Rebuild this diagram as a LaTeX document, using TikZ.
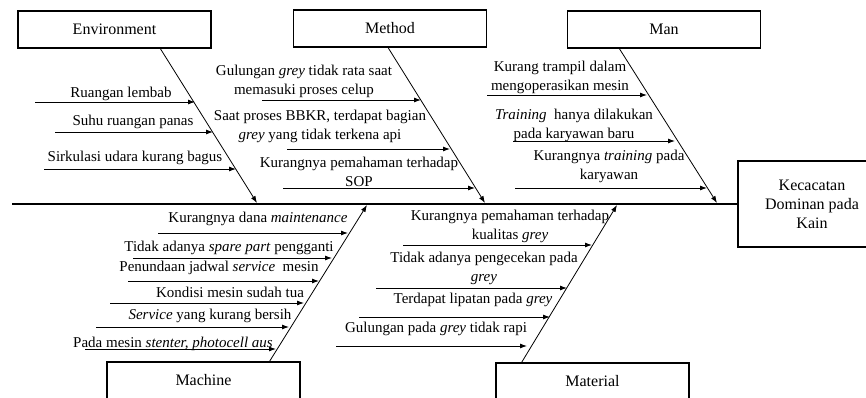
\documentclass[tikz,border=0pt]{standalone}
\usepackage{fontspec}
\setmainfont{Liberation Serif}
\usetikzlibrary{arrows.meta,calc}

\tikzset{
    catbox/.style={draw, line width=1.2pt, minimum width=193pt, minimum height=37pt,
        inner sep=0pt, font=\fontsize{16}{19}\selectfont},
    bone/.style={line width=0.8pt, -{Latex[length=7pt,width=5pt]}},
    causearrow/.style={line width=0.9pt, -{Latex[length=7pt,width=5pt]}},
    causetext/.style={anchor=base, align=center, inner sep=0pt, font=\fontsize{15}{19}\selectfont}
}

\begin{document}
\begin{tikzpicture}[x=1pt,y=-1pt]
            \useasboundingbox (0,0) rectangle (866,398);
            % Effect and spine
            \node[draw, line width=1.2pt, minimum width=148pt, minimum height=86pt, align=center,
                font=\fontsize{16}{19}\selectfont] (Effect) at (812,204) {Kecacatan\\Dominan pada\\Kain};
            \coordinate (Spine-start) at (12,204);
            \draw[line width=1.5pt] (Spine-start) -- (Effect.west);
            % Category boxes
            \node[catbox] (Environment) at (114.5,29.5) {Environment};
            \node[catbox] (Method) at (390,28.5) {Method};
            \node[catbox] (Man) at (664,29.5) {Man};
            \node[catbox] (Machine) at (203.5,380.5) {Machine};
            \node[catbox] (Material) at (592.5,381.5) {Material};
            % Bones
            \coordinate (Environment-tail) at ($(Environment.south west)!0.736!(Environment.south east)$);
            \coordinate (Method-tail) at ($(Method.south west)!0.49!(Method.south east)$);
            \coordinate (Man-tail) at ($(Man.south west)!0.27!(Man.south east)$);
            \coordinate (Machine-tail) at ($(Machine.north west)!0.84!(Machine.north east)$);
            \coordinate (Material-tail) at ($(Material.north west)!0.135!(Material.north east)$);
            \coordinate (Environment-head) at (257,203);
            \coordinate (Method-head) at (485,203);
            \coordinate (Man-head) at (717,203);
            \coordinate (Machine-head) at (367,205);
            \coordinate (Material-head) at (617,205);
            \foreach \name in {Environment,Method,Man,Machine,Material} {
                \draw[bone] (\name-tail) -- (\name-head);
            }
            % Environment causes
            \foreach \i/\xa/\xb/\yl/\tx/\ty/\txt in {
                1/35/195/102/121/98/Ruangan lembab,
                2/55/213/132/133/126/Suhu ruangan panas,
                3/44/236/169/135/161/Sirkulasi udara kurang bagus} {
                \coordinate (Env-a-\i) at (\xa,\yl);
                \coordinate (Env-b-\i) at (\xb,\yl);
                \node[causetext] (Env-c-\i) at (\tx,\ty) {\txt};
                \draw[causearrow] (Env-a-\i) -- (Env-b-\i);
            }
            % Method causes (base = last line)
            \foreach \i/\xa/\xb/\yl/\tx/\ty/\txt in {
                1/262/421/100/304/95/{Gulungan \textit{grey} tidak rata saat\\memasuki proses celup},
                2/287/450/149/320/140/{Saat proses BBKR, terdapat bagian\\\textit{grey} yang tidak terkena api},
                3/283/475/188/359/186/{Kurangnya pemahaman terhadap\\SOP}} {
                \coordinate (Met-a-\i) at (\xa,\yl);
                \coordinate (Met-b-\i) at (\xb,\yl);
                \node[causetext] (Met-c-\i) at (\tx,\ty) {\txt};
                \draw[causearrow] (Met-a-\i) -- (Met-b-\i);
            }
            % Man causes
            \foreach \i/\xa/\xb/\yl/\tx/\ty/\txt in {
                1/487/647/95/560/91/{Kurang trampil dalam\\mengoperasikan mesin},
                2/513/675/141/574/139/{\textit{Training}~ hanya dilakukan\\pada karyawan baru},
                3/515/707/188/609/179/{Kurangnya \textit{training} pada\\karyawan}} {
                \coordinate (Man-a-\i) at (\xa,\yl);
                \coordinate (Man-b-\i) at (\xb,\yl);
                \node[causetext] (Man-c-\i) at (\tx,\ty) {\txt};
                \draw[causearrow] (Man-a-\i) -- (Man-b-\i);
            }
            % Machine causes
            \foreach \i/\xa/\xb/\yl/\tx/\ty/\txt in {
                1/158/348/233/258/222/{Kurangnya dana \textit{maintenance}},
                2/133/332/258/229/251/{Tidak adanya \textit{spare part} pengganti},
                3/128/319/281/219/271/{Penundaan jadwal \textit{service}~ mesin},
                4/110/304/303/230/297/{Kondisi mesin sudah tua},
                5/96/289/327/210/319/{\textit{Service} yang kurang bersih},
                6/85/276/349/173/347/{Pada mesin \textit{stenter, photocell aus}}} {
                \coordinate (Mac-a-\i) at (\xa,\yl);
                \coordinate (Mac-b-\i) at (\xb,\yl);
                \node[causetext] (Mac-c-\i) at (\tx,\ty) {\txt};
                \draw[causearrow] (Mac-a-\i) -- (Mac-b-\i);
            }
            % Material causes
            \foreach \i/\xa/\xb/\yl/\tx/\ty/\txt in {
                1/403/592/245/510/239/{Kurangnya pemahaman terhadap\\kualitas \textit{grey}},
                2/376/567/288/484/281/{Tidak adanya pengecekan pada\\\textit{grey}},
                3/359/550/317/473/303/{Terdapat lipatan pada \textit{grey}},
                4/336/527/346/436/332/{Gulungan pada \textit{grey} tidak rapi}} {
                \coordinate (Mat-a-\i) at (\xa,\yl);
                \coordinate (Mat-b-\i) at (\xb,\yl);
                \node[causetext] (Mat-c-\i) at (\tx,\ty) {\txt};
                \draw[causearrow] (Mat-a-\i) -- (Mat-b-\i);
            }
\end{tikzpicture}
\end{document}
